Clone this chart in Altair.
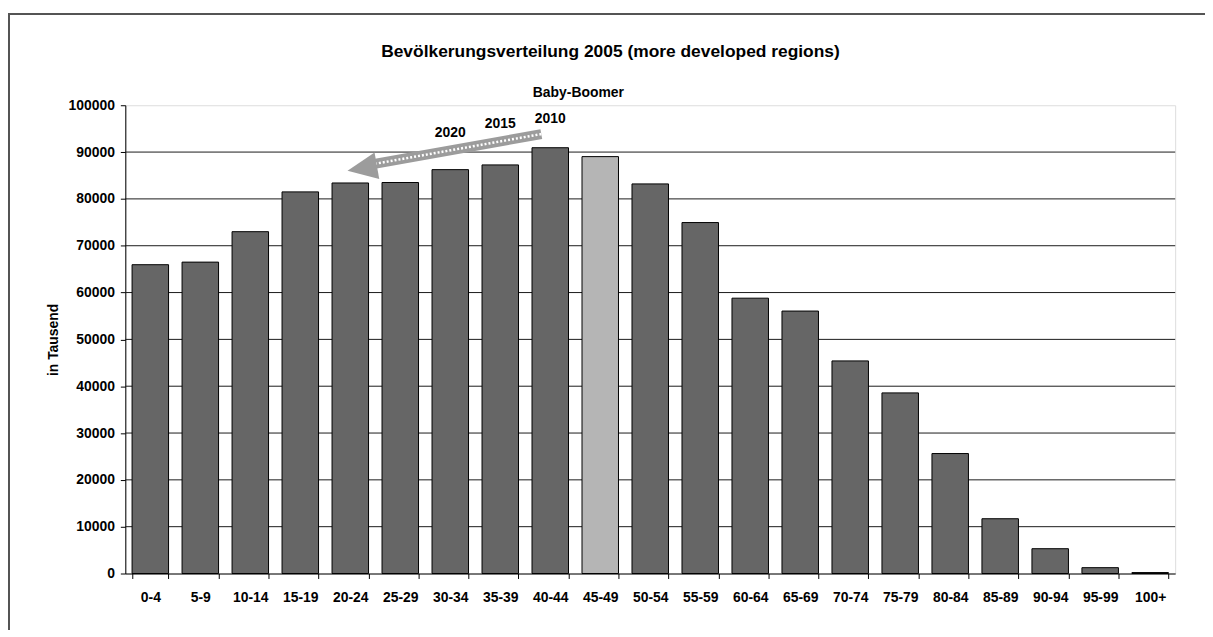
import altair as alt
import pandas as pd

AGE_GROUPS = ["0-4", "5-9", "10-14", "15-19", "20-24", "25-29", "30-34", "35-39",
              "40-44", "45-49", "50-54", "55-59", "60-64", "65-69", "70-74", "75-79",
              "80-84", "85-89", "90-94", "95-99", "100+"]
POPULATION = [65950, 66500, 73000, 81500, 83400, 83500, 86250, 87260, 90930, 89030,
              83200, 74950, 58800, 56050, 45400, 38570, 25620, 11700, 5300, 1250, 200]
HIGHLIGHT = "45-49"

GRID_VALUES = [10000, 20000, 30000, 40000, 50000, 60000, 70000, 80000, 90000]
Y_TICKS = [0, 10000, 20000, 30000, 40000, 50000, 60000, 70000, 80000, 90000, 100000]

YEAR_LABELS = ["2020", "2015", "2010"]
YEAR_GROUPS = ["30-34", "35-39", "40-44"]
YEAR_VALUES = [94050, 95970, 97030]

BOOMER_LABEL = "Baby-Boomer"
BOOMER_GROUP = "45-49"
BOOMER_VALUE = 102550

ARROW_FROM = ("40-44", 93840)
ARROW_TO = ("25-29", 87470)
ARROW_HEAD = ("20-24", 86540)

TITLE = "Bevölkerungsverteilung 2005 (more developed regions)"
Y_TITLE = "in Tausend"
FONT = "Liberation Sans"

bars_df = pd.DataFrame({
    "age": AGE_GROUPS,
    "value": POPULATION,
    "grp": ["highlight" if a == HIGHLIGHT else "base" for a in AGE_GROUPS],
})
grid_df = pd.DataFrame({"value": GRID_VALUES})
years_df = pd.DataFrame({"age": YEAR_GROUPS, "value": YEAR_VALUES, "label": YEAR_LABELS})
boomer_df = pd.DataFrame({"age": [BOOMER_GROUP], "value": [BOOMER_VALUE], "label": [BOOMER_LABEL]})
arrow_df = pd.DataFrame({"age": [ARROW_FROM[0]], "age2": [ARROW_TO[0]],
                         "value": [ARROW_FROM[1]], "value2": [ARROW_TO[1]]})
head_df = pd.DataFrame({"age": [ARROW_HEAD[0]], "value": [ARROW_HEAD[1]]})

xs = alt.Scale(domain=AGE_GROUPS, paddingInner=0.27, paddingOuter=0.135)
ys = alt.Scale(domain=[0, 100000], nice=False)

label_style = dict(labelFont=FONT, labelFontSize=14, labelFontWeight="bold",
                   labelColor="black", domainColor="black", tickColor="black")

x_axis = alt.Axis(title=None, labelAngle=0, tickBand="extent", tickSize=5,
                  labelPadding=12, grid=False, **label_style)
y_axis = alt.Axis(values=Y_TICKS, format="d", grid=False, tickSize=5, labelPadding=6,
                  title=Y_TITLE, titleAngle=270, titleBaseline="middle",
                  titleAlign="center", titleX=-72, titleY=235.5,
                  titleFont=FONT, titleFontSize=14, titleFontWeight="bold",
                  titleColor="black", **label_style)


def X():
    return alt.X("age:N", scale=xs, sort=AGE_GROUPS, axis=x_axis)


def Y():
    return alt.Y("value:Q", scale=ys, axis=y_axis)


frame = alt.Chart(grid_df).mark_rect(fillOpacity=0, stroke="#555555", strokeWidth=1.5).encode(
    x=alt.value(-117), x2=alt.value(1300), y=alt.value(-92), y2=alt.value(800)
)

grid = alt.Chart(grid_df).mark_rule(color="#1a1a1a", strokeWidth=1).encode(y=Y())

bars = alt.Chart(bars_df).mark_bar(stroke="black", strokeWidth=1).encode(
    x=X(),
    y=Y(),
    color=alt.Color("grp:N", scale=alt.Scale(domain=["base", "highlight"],
                                             range=["#666666", "#b5b5b5"]), legend=None),
)

years = alt.Chart(years_df).mark_text(font=FONT, fontSize=14, fontWeight="bold",
                                      color="black", baseline="middle").encode(
    x=X(), y=Y(), text="label:N"
)

boomer = alt.Chart(boomer_df).mark_text(font=FONT, fontSize=14, fontWeight="bold",
                                        color="black", baseline="middle", dx=-22).encode(
    x=X(), y=Y(), text="label:N"
)

shaft = alt.Chart(arrow_df).mark_rule(color="#9c9c9c", strokeWidth=10,
                                      xOffset=-9, x2Offset=-26).encode(
    x=X(), x2="age2:N", y=Y(), y2="value2:Q"
)
shaft_dots = alt.Chart(arrow_df).mark_rule(color="white", strokeWidth=2.5,
                                           strokeDash=[2, 2],
                                           xOffset=-9, x2Offset=-26).encode(
    x=X(), x2="age2:N", y=Y(), y2="value2:Q"
)
head = alt.Chart(head_df).mark_point(shape="M-1,0L1,-0.9L1,0.9Z", size=900, filled=True,
                                     color="#9c9c9c", opacity=1, angle=350,
                                     xOffset=12).encode(
    x=X(), y=Y()
)

chart = alt.layer(frame, grid, bars, years, boomer, shaft, shaft_dots, head).properties(
    width=1056,
    height=471,
    autosize=alt.AutoSizeParams(type="none"),
    padding={"left": 118, "top": 96, "right": 30, "bottom": 55},
    title=alt.TitleParams(TITLE, font=FONT, fontSize=17.5, fontWeight="bold", color="black",
                          anchor="middle", frame="group", baseline="middle",
                          offset=-57, dx=-40),
).configure_view(
    stroke="#999999", strokeWidth=1
).configure(background="white")

chart.save("out.html", embed_options={"renderer": "svg", "actions": False})
